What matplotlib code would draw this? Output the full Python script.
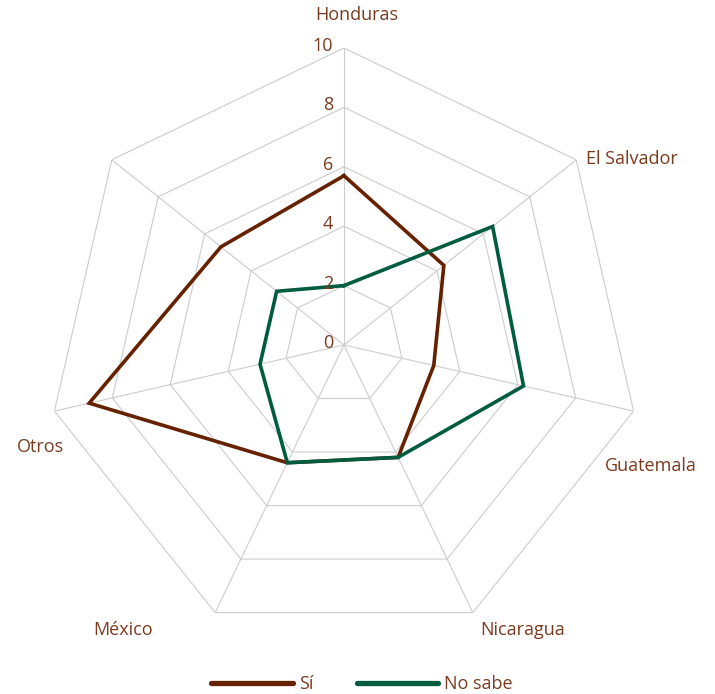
import numpy as np
import matplotlib
matplotlib.use("Agg")
import matplotlib.pyplot as plt

categories = ["Honduras", "El Salvador", "Guatemala", "Nicaragua", "México", "Otros", ""]
si = [5.7, 4.3, 3.1, 4.2, 4.4, 8.8, 5.3]
no_sabe = [2.0, 6.4, 6.2, 4.2, 4.4, 2.9, 2.9]
ticks = [0, 2, 4, 6, 8, 10]
series_names = ["Sí", "No sabe"]

plt.rcParams['font.family'] = ['Open Sans', 'DejaVu Sans']
TEXT = '#7a3b1e'
GRID = '#cccccc'
C_SI = '#662200'
C_NS = '#005c3f'
FS = 13

W, H = 715, 694
fig = plt.figure(figsize=(W / 100, H / 100), dpi=100)
cx, cy, R = 344, 345, 297
ax = fig.add_axes([(cx - R) / W, (H - cy - R) / H, 2 * R / W, 2 * R / H], projection='polar')
ax.set_theta_offset(np.pi / 2)
ax.set_theta_direction(-1)
ax.set_ylim(0, 10)
ax.grid(False)
ax.spines['polar'].set_visible(False)
ax.set_xticks([])
ax.set_yticks([])
ax.patch.set_visible(False)

n = len(categories)
theta = np.arange(n) * 2 * np.pi / n
theta_c = np.concatenate([theta, theta[:1]])

# grid rings
for t in ticks[1:]:
    ax.plot(theta_c, [t] * (n + 1), color=GRID, lw=0.8, zorder=1)
# spokes
for th in theta:
    ax.plot([th, th], [0, 10], color=GRID, lw=0.8, zorder=1)

# data
ax.plot(theta_c, si + si[:1], color=C_SI, lw=2.6, label=series_names[0],
        solid_joinstyle='miter', zorder=3)
ax.plot(theta_c, no_sabe + no_sabe[:1], color=C_NS, lw=2.6, label=series_names[1],
        solid_joinstyle='miter', zorder=3)

# radial tick labels
for t in ticks:
    ax.annotate(str(t), xy=(0, t), xytext=(-11, 2), textcoords='offset pixels',
                ha='right', va='center', fontsize=FS, color=TEXT, zorder=4)

# category labels
offsets = [(13, 33, 'center'), (10, 1, 'left'), (17, -55, 'center'),
           (7, -17, 'left'), (-62, -17, 'right'), (-14, -36, 'center'), (0, 0, 'center')]
for th, lab, (dx, dy, ha) in zip(theta, categories, offsets):
    if lab:
        ax.annotate(lab, xy=(th, 10), xytext=(dx, dy), textcoords='offset pixels',
                    ha=ha, va='center', fontsize=FS, color=TEXT)

h, l = ax.get_legend_handles_labels()
leg = fig.legend(h, l, loc='center', bbox_to_anchor=(362 / W, 1 - 684 / H), ncol=2,
                 frameon=False, fontsize=FS, handlelength=4.5, handletextpad=0.35,
                 columnspacing=2.4, labelcolor=TEXT)
for lh in leg.legend_handles:
    lh.set_linewidth(3.8)
    lh.set_solid_capstyle('round')

fig.savefig('out.png', dpi=100)
